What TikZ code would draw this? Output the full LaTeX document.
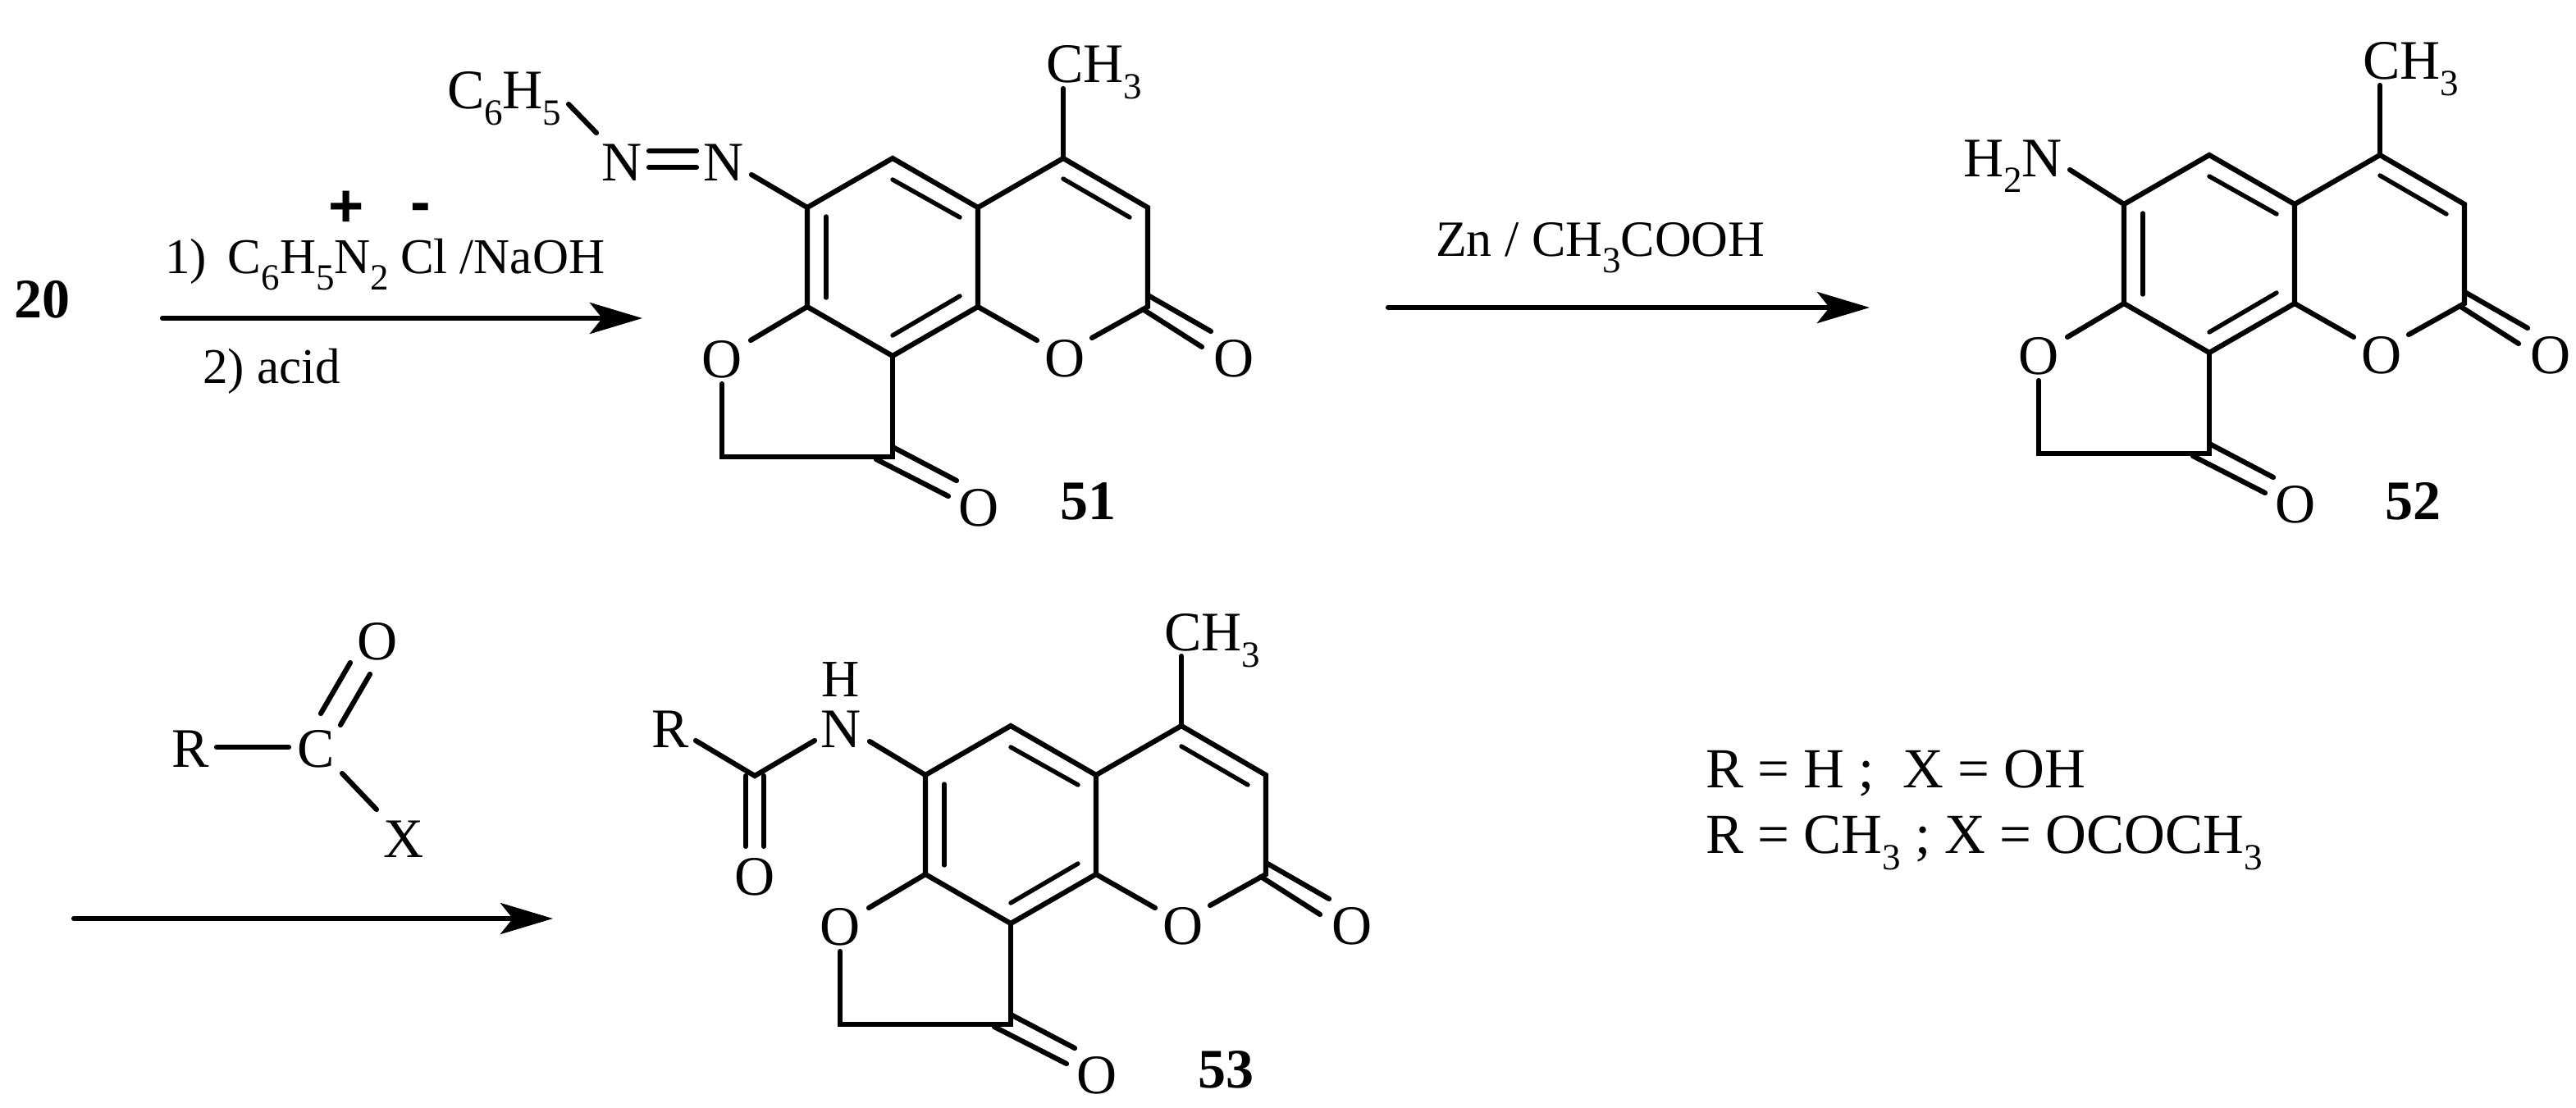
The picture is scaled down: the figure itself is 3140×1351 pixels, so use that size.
\documentclass[tikz,border=0pt]{standalone}
\usepackage{fontspec}
\setmainfont{Liberation Serif}
\newfontfamily\plusfont{Liberation Sans}
\usetikzlibrary{arrows.meta}
\newcommand{\sbs}[1]{\raisebox{-20pt}{\fontsize{45}{45}\selectfont #1}}
\tikzset{
  atom/.style={inner sep=0pt,outer sep=0pt,font=\fontsize{68}{70}\selectfont},
  basetext/.style={atom,anchor=base west},
  reagent/.style={inner sep=0pt,outer sep=0pt,anchor=base west,font=\fontsize{61}{66}\selectfont},
  rnote/.style={inner sep=0pt,outer sep=0pt,anchor=base west,font=\fontsize{69}{72}\selectfont},
  cmpd/.style={inner sep=0pt,outer sep=0pt,font=\fontsize{68}{70}\selectfont\bfseries},
  charge/.style={inner sep=0pt,outer sep=0pt,font=\fontsize{74}{74}\selectfont\plusfont\bfseries},
  bond/.style={draw=black,line width=6.2pt,line cap=round,line join=miter},
  ibond/.style={draw=black,line width=5.4pt,line cap=round},
  rxn/.style={draw=black,line width=6.2pt,line cap=round,-{Stealth[length=64pt,width=38pt,inset=15pt]}},
}
% tricyclic core shared by the three products
\newcommand{\core}[3]{%
\begin{scope}[shift={(#2,#3)},name prefix=#1-]
  \coordinate (a1) at (0,0);
  \coordinate (a2) at (104,60);
  \coordinate (a3) at (104,181);
  \coordinate (a4) at (0,241);
  \coordinate (a5) at (-104,181);
  \coordinate (a6) at (-104,60);
  \coordinate (c4) at (208,0);
  \coordinate (c3) at (311,60);
  \coordinate (c2) at (311,181);
  \coordinate (ch2) at (-208,364);
  \coordinate (co) at (0,364);
  \coordinate (me) at (208,-85);
  \coordinate (i1a) at (0,26);   \coordinate (i1b) at (82,72);
  \coordinate (i2a) at (0,216);  \coordinate (i2b) at (82,168);
  \coordinate (i3a) at (-81,71); \coordinate (i3b) at (-81,170);
  \coordinate (i4a) at (208,25); \coordinate (i4b) at (289,72);
  \coordinate (o1e) at (176,222);\coordinate (o1f) at (243,219);
  \coordinate (o2e) at (-173,222);\coordinate (o2f) at (-208,275);
  \coordinate (x1a) at (313,168);\coordinate (x1b) at (388,211);
  \coordinate (x2a) at (305,184);\coordinate (x2b) at (377,230);
  \coordinate (y1a) at (0,352);  \coordinate (y1b) at (78,393);
  \coordinate (y2a) at (-20,367);\coordinate (y2b) at (68,412);
  \node[atom] (ringO) at (210,244) {O};
  \node[atom] (lacO) at (416,244) {O};
  \node[atom] (furO) at (-208,245) {O};
  \node[atom] (ketO) at (105,426) {O};
  \node[basetext] (meL) at (187,-92) {CH\sbs{3}};
  \draw[bond] (a1) -- (a2) -- (a3) -- (a4) -- (a5) -- (a6) -- cycle;
  \draw[bond] (a2) -- (c4) -- (c3) -- (c2) -- (o1f);
  \draw[bond] (c4) -- (me);
  \draw[bond] (a3) -- (o1e);
  \draw[bond] (a5) -- (o2e);
  \draw[bond] (o2f) -- (ch2) -- (co) -- (a4);
  \draw[ibond] (i1a) -- (i1b);
  \draw[ibond] (i2a) -- (i2b);
  \draw[ibond] (i3a) -- (i3b);
  \draw[ibond] (i4a) -- (i4b);
  \draw[bond] (x1a) -- (x1b);
  \draw[bond] (x2a) -- (x2b);
  \draw[bond] (y1a) -- (y1b);
  \draw[bond] (y2a) -- (y2b);
\end{scope}}
\begin{document}
\begin{tikzpicture}[x=1pt,y=-1pt]
\path[use as bounding box,fill=white] (0,0) rectangle (3140,1351);

% reaction 1
\node[cmpd] (n20) at (51,365) {20};
\coordinate (r1s) at (198,388);
\coordinate (r1e) at (783,388);
\draw[rxn] (r1s) -- (r1e);
\node[reagent] (r1a) at (201,333) {1)\hspace{26pt}C\sbs{6}H\sbs{5}N\sbs{2}\hspace{14pt}Cl /NaOH};
\node[reagent] (r1b) at (247,467) {2)\ acid};
\node[charge] (plus) at (422,255) {+};
\node[charge] (minus) at (513,260) {-};

% compound 51
\core{m}{1088}{193}
\node[cmpd] (n51) at (1326,611) {51};
\node[basetext] (ph) at (545,133) {C\sbs{6}H\sbs{5}};
\node[atom] (n1) at (758,198) {N};
\node[atom] (n2) at (882,198) {N};
\coordinate (pha) at (693,127);
\coordinate (phb) at (727,162);
\coordinate (nna) at (791,184);
\coordinate (nnb) at (849,184);
\coordinate (nnc) at (791,204);
\coordinate (nnd) at (849,204);
\coordinate (nre) at (916,213);
\draw[bond] (pha) -- (phb);
\draw[bond] (nna) -- (nnb);
\draw[bond] (nnc) -- (nnd);
\draw[bond] (nre) -- (m-a6);

% reaction 2
\coordinate (r2s) at (1692,375);
\coordinate (r2e) at (2279,375);
\draw[rxn] (r2s) -- (r2e);
\node[reagent,font=\fontsize{62}{66}\selectfont] (r2a) at (1750,312) {Zn / CH\sbs{3}COOH};

% compound 52
\core{k}{2693}{189}
\node[cmpd] (n52) at (2941,611) {52};
\node[basetext] (h2n) at (2393,215) {H\sbs{2}N};
\coordinate (nh2e) at (2523,207);
\draw[bond] (nh2e) -- (k-a6);

% reagent RCOX and reaction 3
\node[atom] (rr) at (232,913) {R};
\node[atom] (cc) at (385,913) {C};
\node[atom] (oo) at (460,782) {O};
\node[atom] (xx) at (492,1023) {X};
\coordinate (rca) at (264,911);
\coordinate (rcb) at (352,911);
\coordinate (cda) at (391,870);
\coordinate (cdb) at (427,808);
\coordinate (cdc) at (415,884);
\coordinate (cdd) at (451,822);
\coordinate (cxa) at (417,943);
\coordinate (cxb) at (459,987);
\draw[bond] (rca) -- (rcb);
\draw[bond] (cda) -- (cdb);
\draw[bond] (cdc) -- (cdd);
\draw[bond] (cxa) -- (cxb);
\coordinate (r3s) at (90,1120);
\coordinate (r3e) at (674,1120);
\draw[rxn] (r3s) -- (r3e);

% compound 53
\core{t}{1232}{885}
\node[cmpd] (n53) at (1494,1304) {53};
\node[atom,font=\fontsize{64}{66}\selectfont] (hh) at (1025,829) {H};
\node[atom] (nn) at (1025,889) {N};
\node[atom] (r53) at (817,889) {R};
\node[atom] (o53) at (920,1069) {O};
\coordinate (amc) at (920,946);
\coordinate (amr) at (848,903);
\coordinate (amn) at (993,903);
\coordinate (nre3) at (1060,904);
\coordinate (da) at (909,946);
\coordinate (db) at (909,1032);
\coordinate (dc) at (931,946);
\coordinate (dd) at (931,1032);
\draw[bond] (amr) -- (amc) -- (amn);
\draw[bond] (da) -- (db);
\draw[bond] (dc) -- (dd);
\draw[bond] (nre3) -- (t-a6);

% definitions
\node[rnote] (def1) at (2079,960) {R = H ;\ \ X = OH};
\node[rnote] (def2) at (2079,1040) {R = CH\sbs{3} ; X = OCOCH\sbs{3}};
\end{tikzpicture}
\end{document}
